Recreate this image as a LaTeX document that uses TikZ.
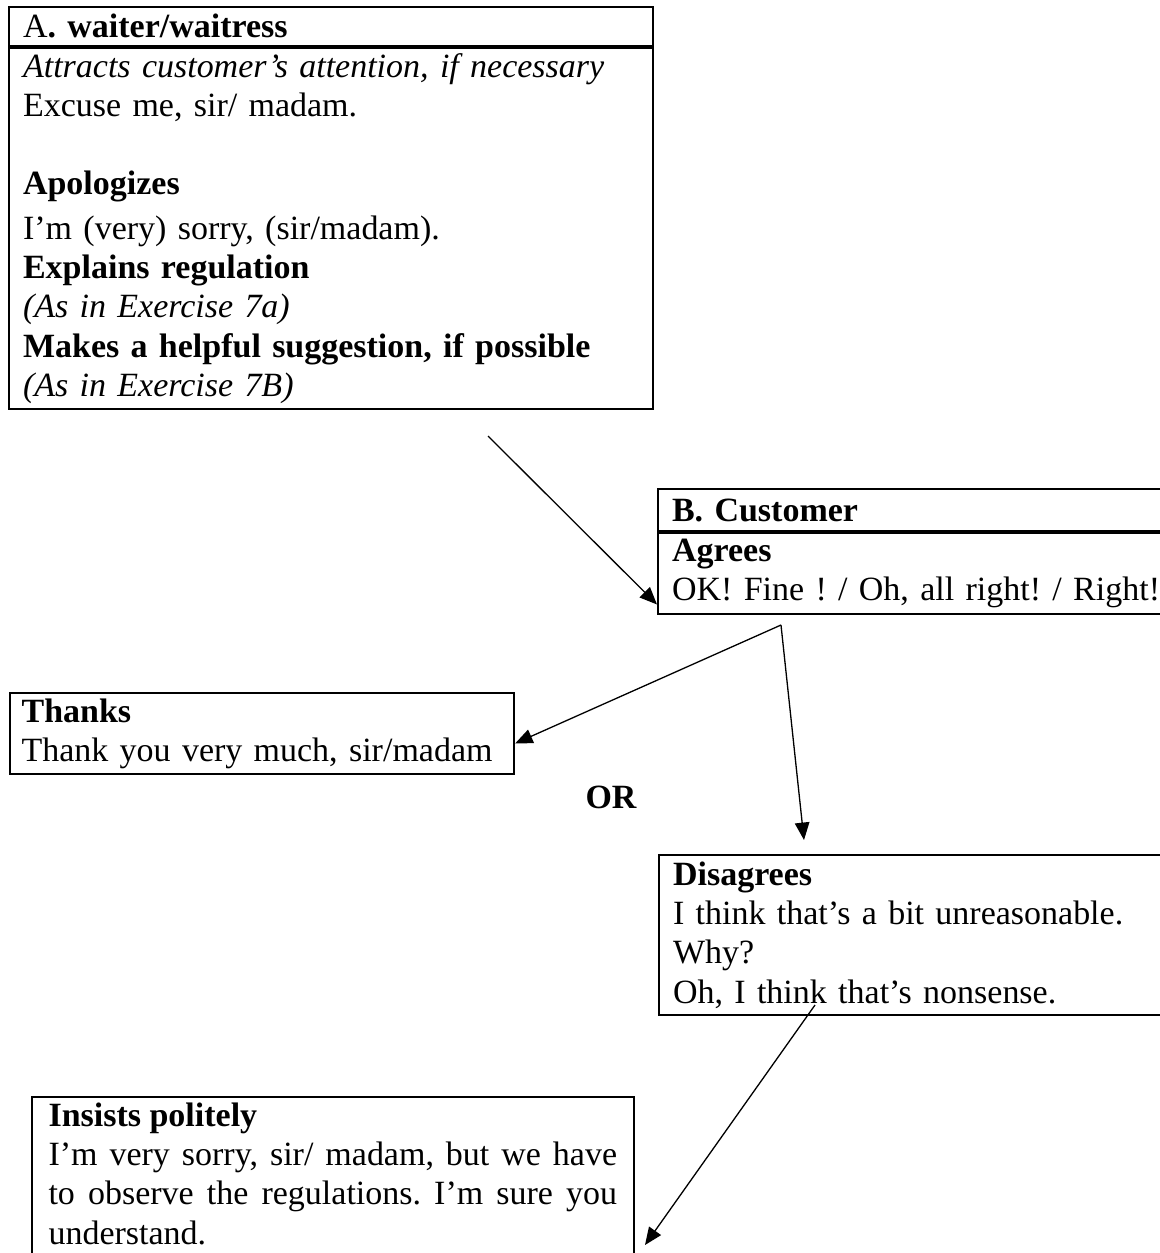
\documentclass[tikz,border=0pt]{standalone}
\usepackage{fontspec}
\setmainfont{Liberation Serif}
\usetikzlibrary{arrows.meta}
\frenchspacing

\begin{document}
\begin{tikzpicture}[x=0.0121cm,y=-0.0121cm,
	box/.style={draw,line width=0.7pt,anchor=north west,align=left,inner xsep=0.17cm,inner ysep=0pt,
		font=\fontsize{11.7}{13.5}\selectfont\frenchspacing},
	link/.style={-{Triangle[length=6pt,width=5pt]},line width=0.45pt}]
	
	\path[use as bounding box,clip] (0,0) rectangle (1160,1253);
	
	% waiter
	\node[box,minimum width=7.79cm,text width=7.45cm,minimum height=0.47cm] (ahead) at (8,6) {A\textbf{. waiter/waitress}};
	\node[box,minimum width=7.79cm,text width=7.45cm,minimum height=4.37cm] (abody) at (ahead.south west)
	{\textit{Attracts customer’s attention, if necessary}\\
		Excuse me, sir/ madam.\\[13.5pt]
		\textbf{Apologizes}\\[1.8pt]
		I’m (very) sorry, (sir/madam).\\
		\textbf{Explains regulation}\\
		\textit{(As in Exercise 7a)}\\
		\textbf{Makes a helpful suggestion, if possible}\\
		\textit{(As in Exercise 7B)}};
	
	% customer
	\node[box,minimum width=7cm,text width=6.66cm,minimum height=0.51cm] (bhead) at (657,488) {\textbf{B. Customer}};
	\node[box,minimum width=7cm,text width=6.66cm,minimum height=0.98cm] (bbody) at (bhead.south west)
	{\textbf{Agrees}\\OK! Fine ! / Oh, all right! / Right!};
	
	\node[box,inner xsep=0.14cm,minimum width=6.10cm,text width=5.82cm,minimum height=0.98cm] (thanks) at (9,692)
	{\textbf{Thanks}\\Thank you very much, sir/madam};
	\node[font=\fontsize{11.7}{13.5}\selectfont\bfseries] (or) at (611,797) {OR};
	
	\node[box,minimum width=7cm,text width=6.66cm,minimum height=1.94cm] (disagrees) at (658,854)
	{\textbf{Disagrees}\\I think that’s a bit unreasonable.\\Why?\\Oh, I think that’s nonsense.};
	
	\node[box,inner xsep=0.2cm,inner ysep=0.07cm,minimum width=7.28cm,text width=6.88cm,align=justify,text depth=4cm] (insists) at (31,1096)
	{\textbf{Insists politely}\\
		I’m very sorry, sir/ madam, but we have\linebreak to observe the regulations. I’m sure you\linebreak understand.};
	
	% free ends
	\coordinate (a-out) at (488,436);
	\coordinate (b-out) at (781,625);
	\coordinate (d-in) at (804,840);
	\coordinate (d-out) at (815,1005);
	\coordinate (i-in) at (645,1245);
	
	\draw[link] (a-out) -- ([yshift=0.13cm]bbody.south west);
	\draw[link] (b-out) -- ([yshift=-0.12cm]thanks.east);
	\draw[link] (b-out) -- (d-in);
	\draw[link] (d-out) -- (i-in);
\end{tikzpicture}
\end{document}
